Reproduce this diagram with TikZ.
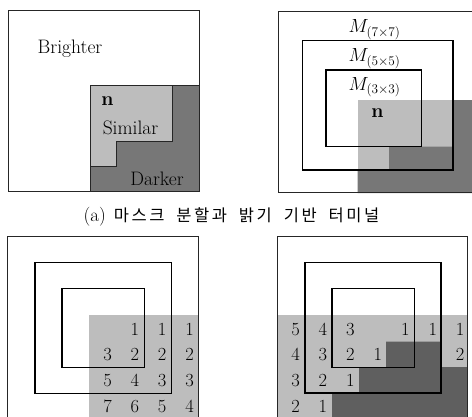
\RequirePackage{fix-cm}
\documentclass[tikz,border=0pt]{standalone}
\usepackage{fontspec}
\newfontfamily\kr{Noto Sans CJK KR}
\definecolor{lightg}{HTML}{BDBDBD}
\definecolor{darkg}{HTML}{777777}
\definecolor{darkerg}{HTML}{5F5F5F}
\begin{document}
\begin{tikzpicture}[x=1pt,y=-1pt,
  outerbox/.style={draw=black!85,line width=0.8pt},
  winbox/.style={draw=black,line width=1.2pt},
  lightreg/.style={fill=lightg},
  darkreg/.style={fill=darkg},
  darkerreg/.style={fill=darkerg},
  edge/.style={draw=black!85,line width=0.7pt},
  txt/.style={inner sep=0pt,anchor=base,font=\fontsize{19.5}{23}\selectfont},
  mlab/.style={inner sep=0pt,anchor=base,font=\fontsize{19}{23}\selectfont},
  dig/.style={inner sep=0pt,anchor=base,font=\fontsize{18.5}{22}\selectfont}]
\clip (0,0) rectangle (472,416);
\fill[white] (0,0) rectangle (472,416);
% ---------- top-left ----------
\path[lightreg,edge] (90,85) -- (172,85) -- (172,141) -- (116.5,141) -- (116.5,166) -- (90,166) -- cycle;
\path[darkreg,edge] (172,85) -- (199,85) -- (199,191.5) -- (90,191.5) -- (90,166) -- (116.5,166) -- (116.5,141) -- (172,141) -- cycle;
\draw[outerbox] (8,10) rectangle (199,191.5);
\node[txt] (bright) at (70,53) {Brighter};
\node[txt] (n1) at (107.5,105.5) {\textbf{n}};
\node[txt] (sim) at (130.5,134.5) {Similar};
\node[txt] (dark) at (157,185) {Darker};
% ---------- top-right ----------
\fill[lightg] (357.7,100) rectangle (453,146.7);
\fill[lightg] (357.7,146.7) rectangle (389,170);
\fill[darkg] (453,100) -- (480,100) -- (480,193) -- (357.7,193) -- (357.7,170) -- (389,170) -- (389,146.7) -- (453,146.7) -- cycle;
\draw[outerbox] (278.7,11) rectangle (495,192.8);
\draw[winbox] (302.7,40.7) rectangle (453,170);
\draw[winbox] (326,70) rectangle (421.3,146.7);
\node[mlab] (m7) at (374.5,32.7) {$M_{(7\times 7)}$};
\node[mlab] (m5) at (374.5,61.7) {$M_{(5\times 5)}$};
\node[mlab] (m3) at (374.5,90.5) {$M_{(3\times 3)}$};
\node[txt] (n2) at (377.5,117.3) {\textbf{n}};
% ---------- caption ----------
\node[inner sep=0pt,anchor=base] (cap) at (231.5,221.5) {\fontsize{19}{22}\selectfont (a)\hspace{8pt}{\kr\fontsize{16.5}{20}\selectfont 마\hspace{2.5pt}스\hspace{2.5pt}크\hspace{12pt}분\hspace{2.5pt}할\hspace{2.5pt}과\hspace{12pt}밝\hspace{2.5pt}기\hspace{12pt}기\hspace{2.5pt}반\hspace{12pt}터\hspace{2.5pt}미\hspace{2.5pt}널}};
% ---------- bottom-left ----------
\fill[lightg] (89.3,315) rectangle (198,421);
\draw[outerbox] (7.3,236.7) rectangle (198,421);
\draw[winbox] (35,262.7) rectangle (171.7,393.7);
\draw[winbox] (62,288.3) rectangle (144.3,367.7);
\foreach \r/\row in {0/{{}, 1, 1, 1}, 1/{3, 2, 2, 2}, 2/{5, 4, 3, 3}, 3/{7, 6, 5, 4}}{
  \foreach \v [count=\c from 0] in \row {
    \node[dig] (bl-\r-\c) at ({107.7+27.27*\c},{335+25.8*\r}) {\v};
  }
}
% ---------- bottom-right ----------
\fill[lightg] (277,314.5) rectangle (467.5,421);
\fill[darkerg] (386,341.5) -- (441.5,341.5) -- (441.5,367) -- (467.5,367) -- (467.5,421) -- (332,421) -- (332,393.5) -- (359,393.5) -- (359,367) -- (386,367) -- cycle;
\draw[outerbox] (277,236.7) rectangle (467.5,421);
\draw[winbox] (305,262.7) rectangle (441,393);
\draw[winbox] (332,288.3) rectangle (414.3,367.7);
\foreach \r/\row in {0/{5, 4, 3, {}, 1, 1, 1}, 1/{4, 3, 2, 1, {}, {}, 2}, 2/{3, 2, 1}, 3/{2, 1}}{
  \foreach \v [count=\c from 0] in \row {
    \node[dig] (br-\r-\c) at ({295.5+27.45*\c},{335+25.8*\r}) {\v};
  }
}
\end{tikzpicture}
\end{document}
